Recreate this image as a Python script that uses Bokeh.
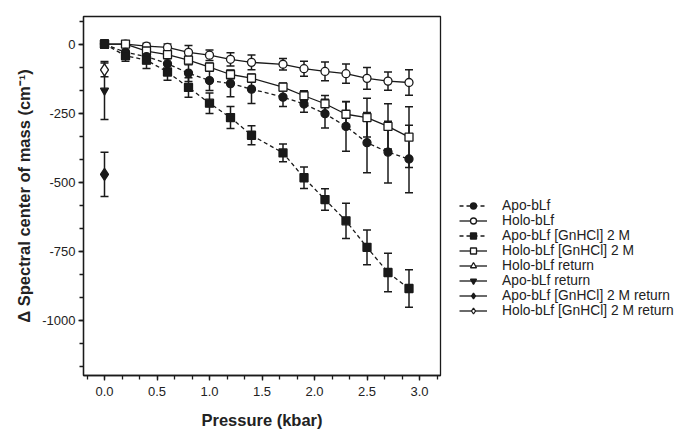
from bokeh.plotting import figure
from bokeh.models import (ColumnDataSource, Whisker, TeeHead, Legend, LegendItem,
                          FixedTicker)
from bokeh.embed import file_html
from bokeh.resources import INLINE

# ---------------- data ----------------
pressure = [0, 0.2, 0.4, 0.6, 0.8, 1.0, 1.2, 1.4, 1.7, 1.9, 2.1, 2.3, 2.5, 2.7, 2.9]

apo = [0, -30, -45, -71, -105, -132, -143, -163, -192, -217, -252, -298, -357, -391, -416]
apo_err = [15, 20, 25, 25, 30, 36, 48, 52, 34, 30, 52, 90, 109, 112, 122]

holo = [0, 0, -7, -12, -30, -40, -55, -66, -73, -89, -99, -107, -124, -134, -139]
holo_err = [10, 10, 10, 12, 25, 19, 24, 27, 21, 27, 34, 35, 39, 33, 46]

apo_gn = [0, -42, -58, -101, -157, -214, -266, -330, -394, -484, -563, -640, -736, -827, -885]
apo_gn_err = [15, 20, 30, 30, 35, 37, 40, 34, 32, 39, 39, 64, 63, 70, 68]

holo_gn = [0, 0, -25, -38, -58, -83, -110, -123, -156, -187, -216, -254, -266, -298, -337]
holo_gn_err = [10, 10, 12, 15, 15, 15, 15, 15, 15, 18, 30, 45, 70, 82, 110]

return_x = [0]
holo_ret = [0]
holo_ret_err = [12]
apo_ret = [-168]
apo_ret_err = [105]
apo_gn_ret = [-472]
apo_gn_ret_err = [80]
holo_gn_ret = [-93]
holo_gn_ret_err = [25]

x_major = [0.0, 0.5, 1.0, 1.5, 2.0, 2.5, 3.0]
y_major = [0, -250, -500, -750, -1000]

INK = "#1a1a1a"
FONT = "Liberation Sans"

p = figure(frame_width=357, frame_height=359, x_range=(-0.2, 3.2), y_range=(-1200, 100),
           output_backend="svg", toolbar_location=None,
           min_border_left=83, min_border_top=16, min_border_bottom=54,
           min_border_right=228, outline_line_color=INK, outline_line_width=1.3)
p.grid.visible = False
p.background_fill_color = "white"
p.border_fill_color = "white"

p.xaxis.ticker = FixedTicker(ticks=x_major,
                             minor_ticks=[i / 6 for i in range(-1, 20)])
p.yaxis.ticker = FixedTicker(ticks=y_major,
                             minor_ticks=[i * 250 / 3 for i in range(-14, 2)])
for ax in (p.xaxis[0], p.yaxis[0]):
    ax.axis_line_color = INK
    ax.axis_line_width = 1.3
    ax.major_tick_line_color = INK
    ax.minor_tick_line_color = INK
    ax.major_tick_line_width = 1.3
    ax.minor_tick_line_width = 1.3
    ax.major_tick_in = 0
    ax.major_tick_out = 5
    ax.minor_tick_in = 0
    ax.minor_tick_out = 4
    ax.major_label_text_font = FONT
    ax.major_label_text_font_size = "13px"
    ax.major_label_text_color = "#222222"
    ax.axis_label_text_font = FONT
    ax.axis_label_text_font_size = "16.5px"
    ax.axis_label_text_font_style = "bold"
    ax.axis_label_text_color = "#222222"
p.xaxis.axis_label = "Pressure (kbar)"
p.xaxis.axis_label_standoff = 12
p.xaxis.major_label_standoff = 6
p.yaxis.axis_label = "Δ Spectral center of mass (cm⁻¹)"
p.yaxis.axis_label_standoff = 6
p.yaxis.major_label_standoff = 3
p.xaxis.major_label_overrides = {v: f"{v:.1f}" for v in x_major}
p.yaxis.major_label_overrides = {v: str(v).replace("−", "-") for v in y_major}


def errbars(xs, ys, es):
    src = ColumnDataSource(dict(x=xs, lo=[y - e for y, e in zip(ys, es)],
                                hi=[y + e for y, e in zip(ys, es)]))
    w = Whisker(source=src, base="x", lower="lo", upper="hi",
                line_color=INK, line_width=1.5,
                lower_head=TeeHead(size=8, line_color=INK, line_width=1.5),
                upper_head=TeeHead(size=8, line_color=INK, line_width=1.5))
    p.add_layout(w)


series = [
    ("Apo-bLf", pressure, apo, apo_err, "circle", INK, "4 3", 8),
    ("Holo-bLf", pressure, holo, holo_err, "circle", "white", "solid", 8),
    ("Apo-bLf [GnHCl] 2 M", pressure, apo_gn, apo_gn_err, "square", INK, "4 3", 8),
    ("Holo-bLf [GnHCl] 2 M", pressure, holo_gn, holo_gn_err, "square", "white", "solid", 8),
    ("Holo-bLf return", return_x, holo_ret, holo_ret_err, "triangle", "white", "solid", 8),
    ("Apo-bLf return", return_x, apo_ret, apo_ret_err, "inverted_triangle", INK, "solid", 8),
    ("Apo-bLf [GnHCl] 2 M return", return_x, apo_gn_ret, apo_gn_ret_err, "diamond", INK, "solid", 12),
    ("Holo-bLf [GnHCl] 2 M return", return_x, holo_gn_ret, holo_gn_ret_err, "diamond", "white", "solid", 12),
]

for _, xs, ys, es, *_rest in series:
    errbars(xs, ys, es)

# draw order: return points first, then main series (filled squares on top)
draw_order = [4, 5, 6, 7, 1, 3, 0, 2]
renderers = {}
for i in draw_order:
    label, xs, ys, es, marker, fill, dash, size = series[i]
    ln = p.line(xs, ys, line_color=INK, line_width=1.3, line_dash=dash)
    mk = p.scatter(xs, ys, marker=marker, size=size, fill_color=fill,
                   line_color=INK, line_width=1.3)
    renderers[i] = [ln, mk]

items = [LegendItem(label=series[i][0], renderers=renderers[i]) for i in range(len(series))]

legend = Legend(items=items, location=(19, 57))
legend.border_line_color = None
legend.background_fill_alpha = 0
legend.margin = 0
legend.padding = 0
legend.spacing = 0
legend.glyph_width = 28
legend.glyph_height = 15
legend.label_height = 15
legend.label_standoff = 15
legend.label_text_font = FONT
legend.label_text_font_size = "13.8px"
legend.label_text_color = "#222222"
p.add_layout(legend, "right")

open("out.html", "w").write(file_html(p, INLINE))
